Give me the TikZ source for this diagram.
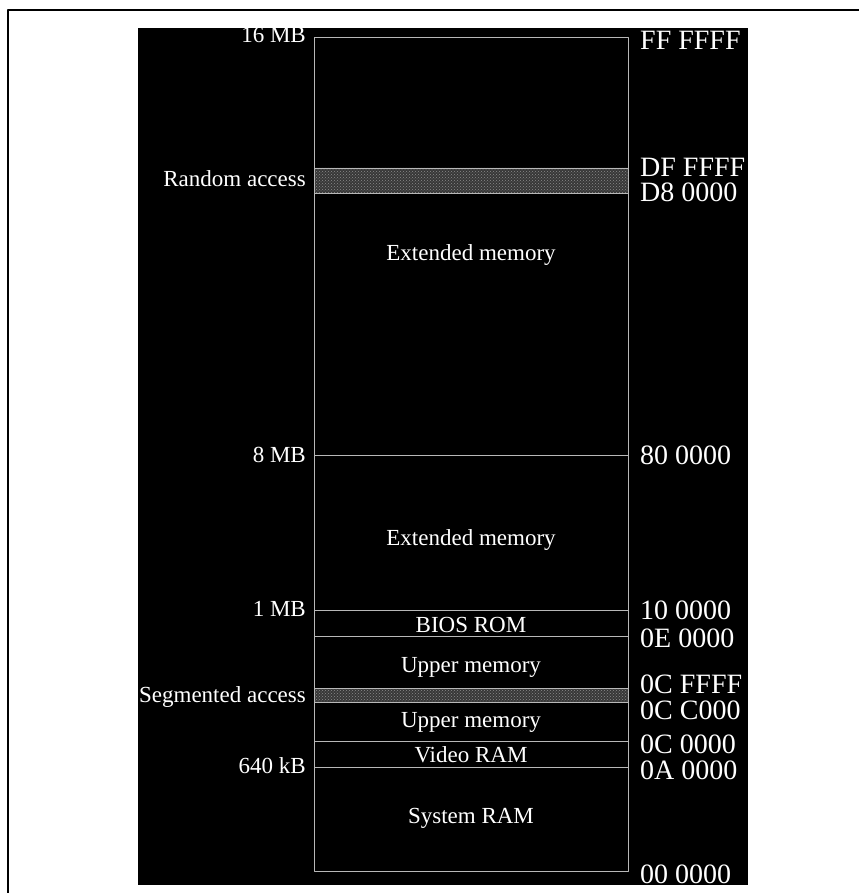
\documentclass[tikz,border=0pt]{standalone}
\usepackage{fontspec}
\setmainfont{Liberation Serif}
\usetikzlibrary{patterns}
\tikzset{
  lbl/.style={white,inner sep=0pt,anchor=base east,font=\fontsize{23}{23}\selectfont},
  hexlbl/.style={white,inner sep=0pt,anchor=base west,font=\fontsize{28}{28}\selectfont},
  area/.style={white,inner sep=0pt,anchor=base,font=\fontsize{23}{23}\selectfont},
  cell/.style={draw=black!28,line width=0.9pt}
}
\begin{document}
\begin{tikzpicture}[x=1pt,y=-1pt,line join=round]
	\useasboundingbox (0,0) rectangle (859,893);
	\draw[line width=2pt] (8,893) -- (8,10) -- (859,10);
	\fill[black] (138,28) rectangle (748,885);
	% levels, left and right side of the map
	\coordinate (A1) at (314,37);   \coordinate (B1) at (628,37);
	\coordinate (A2) at (314,168);  \coordinate (B2) at (628,168);
	\coordinate (A3) at (314,193);  \coordinate (B3) at (628,193);
	\coordinate (A4) at (314,455);  \coordinate (B4) at (628,455);
	\coordinate (A5) at (314,610);  \coordinate (B5) at (628,610);
	\coordinate (A6) at (314,636);  \coordinate (B6) at (628,636);
	\coordinate (A7) at (314,688);  \coordinate (B7) at (628,688);
	\coordinate (A8) at (314,702);  \coordinate (B8) at (628,702);
	\coordinate (A9) at (314,741);  \coordinate (B9) at (628,741);
	\coordinate (A10) at (314,767); \coordinate (B10) at (628,767);
	\coordinate (A11) at (314,871); \coordinate (B11) at (628,871);
	\fill[black!78] (A2) rectangle (B3) (A7) rectangle (B8);
	\fill[pattern=crosshatch dots,pattern color=black!45] (A2) rectangle (B3) (A7) rectangle (B8);
	\draw[cell] (A1) rectangle (B11);
	\foreach \i in {2,...,10} \draw[cell] (A\i) -- (B\i);
	% sizes
	\node[lbl] (s16) at (306,43) {16 MB};
	\node[lbl] (rnd) at (306,187) {Random access};
	\node[lbl] (s8) at (306,462) {8 MB};
	\node[lbl] (s1) at (306,616) {1 MB};
	\node[lbl] (seg) at (306,702) {Segmented access};
	\node[lbl] (s640) at (306,773) {640 kB};
	% regions
	\node[area] (ext1) at (471,260) {Extended memory};
	\node[area] (ext2) at (471,545) {Extended memory};
	\node[area] (bios) at (471,632) {BIOS ROM};
	\node[area] (upp1) at (471,672) {Upper memory};
	\node[area] (upp2) at (471,727) {Upper memory};
	\node[area] (vram) at (471,762) {Video RAM};
	\node[area] (sram) at (471,823) {System RAM};
	% addresses
	\node[hexlbl] (h1) at (640,50) {FF FFFF};
	\node[hexlbl] (h2) at (640,177) {DF FFFF};
	\node[hexlbl] (h3) at (640,202) {D8 0000};
	\node[hexlbl] (h4) at (640,464) {80 0000};
	\node[hexlbl] (h5) at (640,619) {10 0000};
	\node[hexlbl] (h6) at (640,647) {0E 0000};
	\node[hexlbl] (h7) at (640,693) {0C FFFF};
	\node[hexlbl] (h8) at (640,719) {0C C000};
	\node[hexlbl] (h9) at (640,753) {0C 0000};
	\node[hexlbl] (h10) at (640,779) {0A 0000};
	\node[hexlbl] (h11) at (640,883) {00 0000};
\end{tikzpicture}
\end{document}
